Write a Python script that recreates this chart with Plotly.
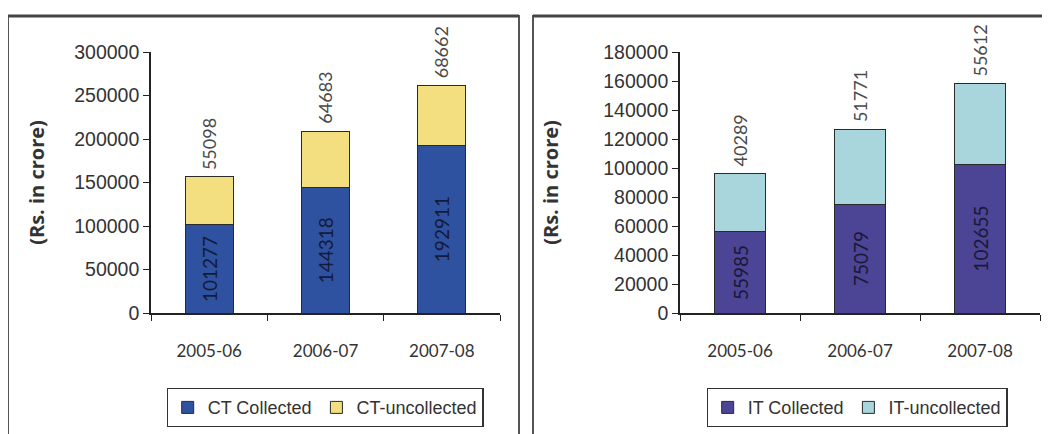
import plotly.graph_objects as go

categories = ["2005-06", "2006-07", "2007-08"]
ct_collected = [101277, 144318, 192911]
ct_uncollected = [55098, 64683, 68662]
it_collected = [55985, 75079, 102655]
it_uncollected = [40289, 51771, 55612]
ct_ticks = [0, 50000, 100000, 150000, 200000, 250000, 300000]
it_ticks = [0, 20000, 40000, 60000, 80000, 100000, 120000, 140000, 160000, 180000]

W, H = 1050, 434
OFF = 8  # page body margin


def px(x):
    return (x - OFF) / W


def py(y):
    return (H - (y - OFF)) / H


BAR_LINE = dict(color="#2a2a2a", width=1)

fig = go.Figure()

fig.add_trace(go.Bar(
    x=categories, y=ct_collected, name="CT Collected", width=0.41,
    marker=dict(color="#2f52a0", line=BAR_LINE),
    text=[str(v) for v in ct_collected], textposition="inside",
    insidetextanchor="middle", textangle=-90,
    insidetextfont=dict(family="Lato", size=19, color="#141a3a"),
    xaxis="x", yaxis="y", legend="legend"))
fig.add_trace(go.Bar(
    x=categories, y=ct_uncollected, name="CT-uncollected", width=0.41,
    marker=dict(color="#f3de80", line=BAR_LINE),
    xaxis="x", yaxis="y", legend="legend"))
fig.add_trace(go.Bar(
    x=categories, y=it_collected, name="IT Collected", width=0.42,
    marker=dict(color="#4c4494", line=BAR_LINE),
    text=[str(v) for v in it_collected], textposition="inside",
    insidetextanchor="middle", textangle=-90,
    insidetextfont=dict(family="Lato", size=19, color="#1b1838"),
    xaxis="x2", yaxis="y2", legend="legend2"))
fig.add_trace(go.Bar(
    x=categories, y=it_uncollected, name="IT-uncollected", width=0.42,
    marker=dict(color="#a9d5dc", line=BAR_LINE),
    xaxis="x2", yaxis="y2", legend="legend2"))

annotations = []
for cats, base, top, xr, yr in [(categories, ct_collected, ct_uncollected, "x", "y"),
                                (categories, it_collected, it_uncollected, "x2", "y2")]:
    for c, b, t in zip(cats, base, top):
        annotations.append(dict(
            x=c, y=b + t, xref=xr, yref=yr, text=str(t), showarrow=False,
            textangle=-90, yanchor="bottom", xanchor="center", yshift=5,
            font=dict(family="Lato", size=18, color="#4a4a4a")))

ydom = [py(313), py(52)]
axis_common = dict(showline=True, linecolor="#222", linewidth=1.6,
                   ticks="outside", ticklen=6, tickcolor="#222", tickwidth=1.4,
                   showgrid=False, zeroline=False, fixedrange=True)
title_font = dict(family="Open Sans", size=20, color="#333")
xfont = dict(family="Lato", size=17, color="#333")
yfont = dict(family="Liberation Sans", size=19.5, color="#333")
legend_common = dict(orientation="h", xanchor="center", y=py(388),
                     yanchor="top", bordercolor="#333", borderwidth=1.2,
                     font=dict(family="Liberation Sans", size=18, color="#333"),
                     itemwidth=30, traceorder="normal", tracegroupgap=0)
cat_ticktext = ["<br>" + c for c in categories]
BOX = dict(color="#555", width=2)
TOP = dict(color="#444", width=3)

fig.update_layout(
    width=W, height=H,
    margin=dict(l=0, r=0, t=0, b=0, autoexpand=False),
    paper_bgcolor="white", plot_bgcolor="white",
    barmode="stack", showlegend=True,
    xaxis=dict(domain=[px(151), px(500)], anchor="y", type="category",
               tickson="boundaries", tickfont=xfont, tickmode="array",
               tickvals=categories, ticktext=cat_ticktext,
               **axis_common),
    yaxis=dict(domain=ydom, anchor="x", range=[0, 300000], tickvals=ct_ticks,
               ticktext=[str(v) for v in ct_ticks], tickfont=yfont,
               title=dict(text="<b>(Rs. in crore)</b>", standoff=24, font=title_font),
               **axis_common),
    xaxis2=dict(domain=[px(680), px(1040)], anchor="y2", type="category",
                tickson="boundaries", tickfont=xfont, tickmode="array",
                tickvals=categories, ticktext=cat_ticktext,
                **axis_common),
    yaxis2=dict(domain=ydom, anchor="x2", range=[0, 180000], tickvals=it_ticks,
                ticktext=[str(v) for v in it_ticks], tickfont=yfont,
                title=dict(text="<b>(Rs. in crore)</b>", standoff=39, font=title_font),
                **axis_common),
    legend=dict(x=px(325), **legend_common),
    legend2=dict(x=px(857), **legend_common),
    annotations=annotations,
    shapes=[
        dict(type="rect", xref="paper", yref="paper", x0=px(8), x1=px(519),
             y0=-0.1, y1=py(16), line=BOX, layer="above"),
        dict(type="rect", xref="paper", yref="paper", x0=px(533), x1=1.1,
             y0=-0.1, y1=py(16), line=BOX, layer="above"),
        dict(type="line", xref="paper", yref="paper", x0=px(8), x1=px(519),
             y0=py(16), y1=py(16), line=TOP, layer="above"),
        dict(type="line", xref="paper", yref="paper", x0=px(533), x1=1.0,
             y0=py(16), y1=py(16), line=TOP, layer="above"),
    ],
)

fig.write_html("out.html")
